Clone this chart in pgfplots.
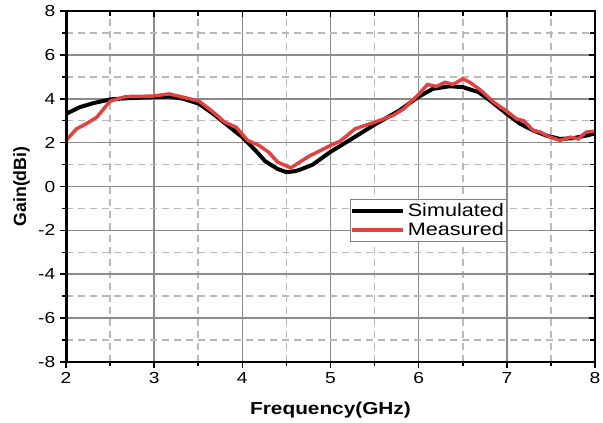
\documentclass[border=0pt]{standalone}
\usepackage{fontspec}
\setmainfont{Liberation Sans}[FakeStretch=1.2]
\newfontfamily\ylfont{Liberation Sans}
\usepackage{pgfplots}
\pgfplotsset{compat=1.18}
\definecolor{meas}{RGB}{225,65,65}
\definecolor{majgrid}{RGB}{140,140,140}
\definecolor{mingrid}{RGB}{185,185,185}
\begin{document}
\begin{tikzpicture}
\begin{axis}[
 scale only axis, width=396.75pt, height=263.25pt,
 xmin=2,xmax=8,ymin=-8,ymax=8,
 xtick={2,...,8}, ytick={-8,-6,...,8},
 minor x tick num=1, minor y tick num=1,
 xmajorgrids=true, ymajorgrids=true, xminorgrids=true, yminorgrids=true,
 major grid style={draw=majgrid, line width=1.2pt, solid},
 minor grid style={draw=mingrid, line width=1.2pt, dash pattern=on 5pt off 4pt},
 tick pos=left, tick align=outside,
 major tick length=4.5pt, minor tick length=3pt,
 major tick style={black, line width=1.2pt},
 minor tick style={black, line width=1.2pt},
 axis line style={line width=1.5pt},
 /pgf/number format/assume math mode=true,
 ticklabel style={font=\fontsize{12}{14}\selectfont},
 xlabel={Frequency(GHz)}, ylabel={Gain(dBi)},
 xlabel style={font=\fontsize{13}{15}\selectfont\bfseries, at={(axis description cs:0.5,0)}, anchor=base, yshift=-39pt},
 ylabel style={font=\ylfont\fontsize{13.3}{15}\selectfont\bfseries, at={([xshift=-30pt]axis description cs:0,0.5)}, anchor=base},
 legend style={at={(0.537,0.464)}, anchor=north west, draw=gray, line width=0.6pt, fill=white,
   font=\fontsize{13.5}{16}\selectfont, inner xsep=0pt, inner ysep=1pt, row sep=-1pt, cells={anchor=west}},
 legend image code/.code={\draw[#1] (0pt,0pt) -- (38pt,0pt);},
]
\addplot[black, line width=3pt] coordinates {
(2.0,3.31) (2.16,3.62) (2.31,3.8) (2.5,3.97) (2.68,4.02) (2.98,4.07) (3.17,4.1)
(3.33,4.0) (3.51,3.77) (3.67,3.31) (3.86,2.7) (4.0,2.25) (4.15,1.64) (4.26,1.15)
(4.4,0.8) (4.5,0.65) (4.6,0.7) (4.65,0.76) (4.8,1.0) (5.0,1.58) (5.22,2.12)
(5.5,2.82) (5.78,3.46) (5.99,4.07) (6.16,4.45) (6.35,4.57) (6.5,4.53) (6.68,4.3)
(6.81,3.92) (7.0,3.31) (7.15,2.86) (7.3,2.55) (7.45,2.32) (7.6,2.17) (7.75,2.2)
(7.9,2.32) (8.0,2.42)
};
\addlegendentry{Simulated}
\addplot[meas, line width=2.6pt] coordinates {
(2.0,2.1) (2.12,2.63) (2.23,2.86) (2.35,3.16) (2.5,3.89) (2.68,4.1) (2.98,4.12)
(3.17,4.22) (3.33,4.07) (3.51,3.89) (3.67,3.39) (3.8,2.93) (3.93,2.7) (4.06,2.1)
(4.19,1.87) (4.3,1.56) (4.4,1.11) (4.55,0.85) (4.65,1.11) (4.77,1.41) (5.0,1.87)
(5.11,2.07) (5.28,2.63) (5.5,2.93) (5.71,3.24) (5.83,3.54) (6.0,4.2) (6.1,4.65)
(6.2,4.56) (6.3,4.75) (6.39,4.65) (6.5,4.91) (6.58,4.75) (6.7,4.4) (6.81,4.0)
(6.85,3.84) (7.0,3.43) (7.11,3.08) (7.19,3.0) (7.3,2.55) (7.38,2.48) (7.49,2.25)
(7.6,2.1) (7.72,2.25) (7.81,2.17) (7.9,2.48) (8.0,2.52)
};
\addlegendentry{Measured}
\draw[line width=2.25pt] (rel axis cs:0,1) -- (rel axis cs:0,0) -- (rel axis cs:1,0);
\coordinate (sw) at (rel axis cs:0,0);
\coordinate (ne) at (rel axis cs:1,1);
\end{axis}
\begin{axis}[
 scale only axis, width=396.75pt, height=263.25pt,
 xmin=2,xmax=8,ymin=-8,ymax=8,
 xtick={2,...,8}, ytick={-8,-6,...,8},
 minor x tick num=1, minor y tick num=1,
 xticklabels={}, yticklabels={},
 tick pos=right, tick align=inside,
 major tick length=4.5pt, minor tick length=3.5pt,
 major tick style={black, line width=1.2pt},
 minor tick style={black, line width=1.2pt},
 axis line style={line width=1.5pt},
]
\end{axis}
\pgfresetboundingbox
\path[use as bounding box] ([xshift=-49.5pt,yshift=-45pt]sw) rectangle ([xshift=6pt,yshift=8.25pt]ne);
\end{tikzpicture}
\end{document}
